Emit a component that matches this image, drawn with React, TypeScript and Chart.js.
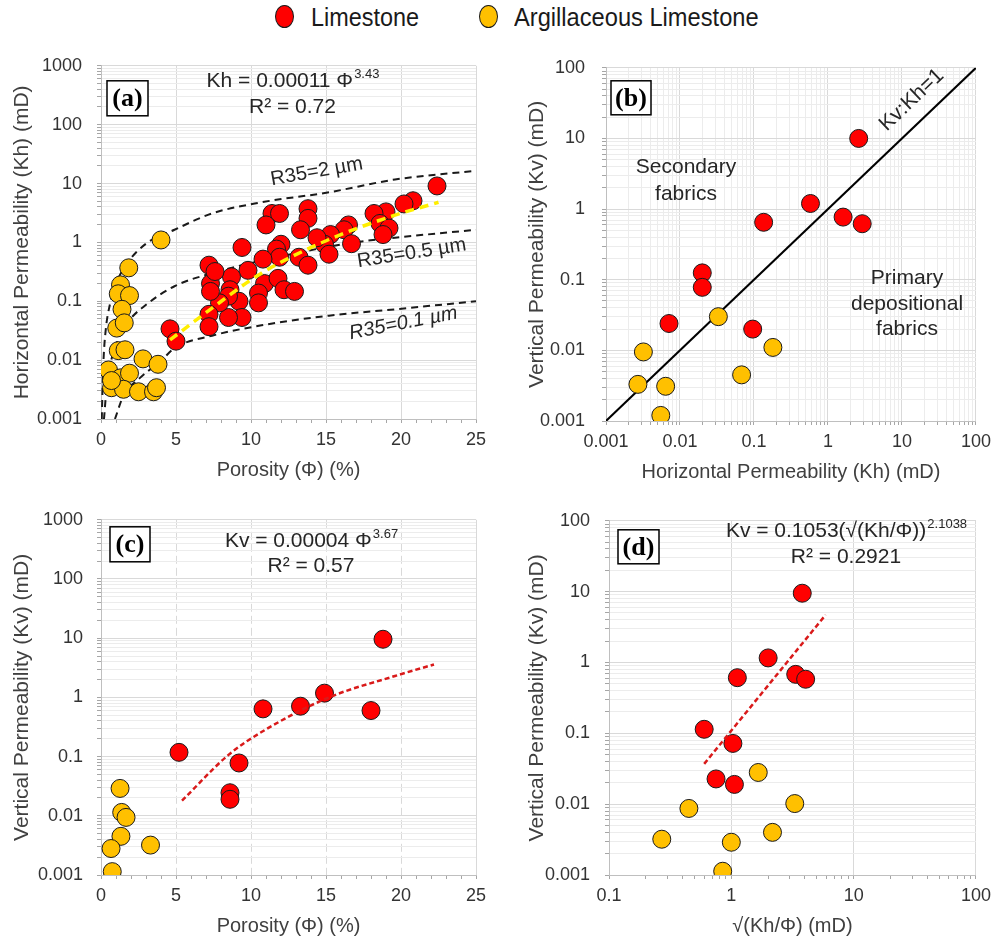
import React, { useEffect, useRef } from 'react';
import { Chart, registerables } from 'chart.js';

Chart.register(...registerables);

const SANS = '"Liberation Sans", Arial, sans-serif';
const SERIF = '"Liberation Serif", "Times New Roman", serif';

const RED = '#ff0000';
const YELLOW = '#ffc000';
const TEXT = '#262626';
const TICK_TEXT = '#333333';

// ---------- tick values ----------
const PHI_TICKS = [0, 5, 10, 15, 20, 25];
const PERM_TICKS_A = [0.001, 0.01, 0.1, 1, 10, 100, 1000];
const PERM_TICKS_B = [0.001, 0.01, 0.1, 1, 10, 100];
const SQRT_TICKS_D = [0.1, 1, 10, 100];

// ---------- panel (a): porosity vs Kh ----------
const LIME_A_PHI = [22.4, 20.8, 20.2, 19.0, 18.2, 18.6, 19.2, 18.8, 16.5, 16.2, 16.7, 15.3, 14.9, 15.2, 14.4, 13.8, 13.8, 13.3, 13.2, 13.8, 12.0, 11.7, 11.9, 11.4, 11.9, 11.0, 9.4, 10.8, 10.9, 11.8, 12.2, 12.9, 10.5, 10.5, 9.8, 8.7, 8.6, 9.2, 9.4, 8.5, 8.5, 7.9, 7.3, 7.2, 7.6, 7.3, 7.2, 7.2, 4.6, 5.0];
const LIME_A_KH = [9.1, 5.1, 4.5, 3.3, 3.1, 2.1, 1.75, 1.36, 1.98, 1.64, 0.95, 1.36, 0.93, 0.63, 1.2, 3.74, 2.56, 1.64, 0.56, 0.41, 0.93, 0.77, 0.56, 3.1, 3.1, 1.98, 0.82, 0.52, 0.2, 0.245, 0.157, 0.147, 0.138, 0.094, 0.335, 0.26, 0.157, 0.1, 0.053, 0.053, 0.122, 0.094, 0.2, 0.41, 0.32, 0.147, 0.06, 0.037, 0.034, 0.021];
const ARG_A_PHI = [4.0, 1.85, 1.3, 1.15, 1.9, 1.4, 1.05, 1.55, 1.15, 1.6, 0.5, 1.3, 1.9, 2.8, 3.8, 0.7, 1.5, 2.5, 3.5, 3.7, 0.7];
const ARG_A_KH = [1.1, 0.37, 0.19, 0.134, 0.125, 0.073, 0.035, 0.043, 0.0145, 0.015, 0.0068, 0.005, 0.006, 0.0105, 0.0085, 0.0034, 0.0032, 0.0029, 0.0029, 0.0034, 0.0045];
const R35_2_PHI = [0.05, 0.15, 0.3, 0.6, 0.93, 1.8, 3.0, 4.9, 7.4, 10.7, 15.2, 19.6, 25];
const R35_2_KH = [0.001, 0.008, 0.03, 0.09, 0.18, 0.46, 0.95, 1.64, 3.1, 4.8, 7.1, 11.7, 16.5];
const R35_05_PHI = [0.2, 0.4, 0.93, 1.8, 2.9, 4.9, 7.4, 10.7, 16.9, 19.6, 25];
const R35_05_KH = [0.001, 0.004, 0.016, 0.044, 0.083, 0.18, 0.3, 0.49, 1.0, 1.2, 1.64];
const R35_01_PHI = [0.93, 1.5, 2.6, 4.0, 4.9, 7.4, 10.7, 15.2, 19.6, 25];
const R35_01_KH = [0.001, 0.0025, 0.005, 0.0097, 0.016, 0.026, 0.039, 0.057, 0.073, 0.1];
const TREND_A_PHI = [4.6, 7.2, 10.7, 15.2, 19.6, 22.5];
const TREND_A_KH = [0.022, 0.07, 0.3, 1.12, 2.9, 4.8];

// ---------- panel (b): Kh vs Kv ----------
const LIME_B_KH = [2.6, 0.58, 0.135, 1.6, 2.9, 0.02, 0.02, 0.0071, 0.096];
const LIME_B_KV = [10, 1.2, 0.65, 0.77, 0.62, 0.125, 0.078, 0.024, 0.02];
const ARG_B_KH = [0.033, 0.0032, 0.18, 0.068, 0.0027, 0.0064, 0.0055];
const ARG_B_KV = [0.03, 0.0095, 0.011, 0.0045, 0.0033, 0.0031, 0.0012];
const ONE_TO_ONE_KH = [0.001, 100];
const ONE_TO_ONE_KV = [0.001, 100];

// ---------- panel (c): porosity vs Kv ----------
const LIME_C_PHI = [18.8, 14.9, 13.3, 10.8, 18.0, 5.2, 9.2, 8.6, 8.6];
const LIME_C_KV = [9.6, 1.18, 0.71, 0.64, 0.6, 0.118, 0.078, 0.0245, 0.019];
const ARG_C_PHI = [1.27, 1.38, 1.67, 1.33, 0.67, 3.3, 0.75];
const ARG_C_KV = [0.029, 0.0114, 0.0094, 0.0045, 0.0028, 0.0032, 0.00114];
const TREND_C_PHI = [5.4, 8.5, 10.7, 15.2, 19.6, 22.2];
const TREND_C_KV = [0.018, 0.107, 0.26, 1.0, 2.3, 3.6];

// ---------- panel (d): sqrt(Kh/phi) vs Kv ----------
const LIME_D_X = [3.8, 2.0, 1.12, 3.36, 4.05, 0.6, 1.03, 0.75, 1.06];
const LIME_D_KV = [9.5, 1.16, 0.61, 0.68, 0.58, 0.114, 0.072, 0.0227, 0.019];
const ARG_D_X = [1.66, 3.3, 0.45, 2.17, 0.27, 1.0, 0.85];
const ARG_D_KV = [0.028, 0.0102, 0.0087, 0.004, 0.0032, 0.0029, 0.00113];
const TREND_D_X = [0.6, 5.9];
const TREND_D_KV = [0.037, 4.7];

// ---------- helpers ----------
const zip = (xs: number[], ys: number[]) => xs.map((x, i) => ({ x, y: ys[i] }));

function logAll(majors: number[]) {
  const out: number[] = [];
  for (let i = 0; i < majors.length; i++) {
    out.push(majors[i]);
    if (i < majors.length - 1) for (let k = 2; k <= 9; k++) out.push(majors[i] * k);
  }
  return out;
}
function linAll(min: number, max: number, step: number) {
  const out: number[] = [];
  for (let v = min; v <= max + 1e-9; v += step) out.push(Math.round(v * 1000) / 1000);
  return out;
}

interface AxisCfg {
  type: 'linear' | 'logarithmic';
  majors: number[];
  all: number[];
  title: string;
  size: number;
  tickPad: number;
  titlePad: number;
  minorGrid: boolean;
  dashed?: boolean;
}

function buildScale(axis: 'x' | 'y', c: AxisCfg) {
  const isLog = c.type === 'logarithmic';
  const idx = (v: number) =>
    c.majors.findIndex((m) => (isLog ? Math.abs(Math.log10(v) - Math.log10(m)) < 1e-6 : Math.abs(v - m) < 1e-6));
  const min = c.majors[0];
  const max = c.majors[c.majors.length - 1];
  return {
    type: c.type,
    min,
    max,
    afterBuildTicks: (scale: any) => {
      scale.ticks = c.all.map((v) => ({ value: v }));
    },
    afterFit: (scale: any) => {
      if (axis === 'x') scale.height = c.size;
      else scale.width = c.size;
    },
    ticks: {
      autoSkip: false,
      maxRotation: 0,
      minRotation: 0,
      padding: c.tickPad,
      color: TICK_TEXT,
      font: { family: SANS, size: 18 },
      callback: (v: any) => {
        const i = idx(Number(v));
        return i >= 0 ? String(c.majors[i]) : '';
      },
    },
    grid: {
      color: (ctx: any) => {
        if (!ctx.tick) return '#d9d9d9';
        return idx(ctx.tick.value) >= 0 ? '#d9d9d9' : c.minorGrid ? '#ececec' : 'rgba(0,0,0,0)';
      },
      lineWidth: 1,
      tickLength: 4,
      tickColor: '#a6a6a6',
      drawTicks: true,
    },
    border: {
      display: true,
      color: '#bfbfbf',
      width: 1,
      dash: (ctx: any) => (c.dashed && ctx.tick && ctx.tick.value > min && ctx.tick.value < max ? [8, 4] : []),
    },
    title: {
      display: true,
      text: c.title,
      color: '#404040',
      font: { family: SANS, size: axis === 'x' ? 20 : 21 },
      padding: axis === 'x' ? { top: 0, bottom: c.titlePad } : { top: c.titlePad, bottom: 0 },
    },
  };
}

function pointsDs(data: any[], color: string, order: number) {
  return {
    data,
    backgroundColor: color,
    borderColor: '#1a1a1a',
    borderWidth: 1,
    pointRadius: 9,
    pointHoverRadius: 9,
    showLine: false,
    order,
  };
}
function lineDs(data: any[], color: string, width: number, dash: number[], order: number, curve = true) {
  return {
    data,
    borderColor: color,
    backgroundColor: color,
    borderWidth: width,
    borderDash: dash,
    pointRadius: 0,
    pointHoverRadius: 0,
    showLine: true,
    fill: false,
    tension: 0,
    cubicInterpolationMode: curve ? 'monotone' : 'default',
    order,
  };
}

function drawSupLine(ctx: CanvasRenderingContext2D, cx: number, cy: number, main: string, sup: string, size: number) {
  ctx.save();
  ctx.fillStyle = TEXT;
  ctx.textBaseline = 'alphabetic';
  ctx.textAlign = 'left';
  ctx.font = `${size}px ${SANS}`;
  const w1 = ctx.measureText(main).width;
  const supSize = Math.round(size * 0.62);
  ctx.font = `${supSize}px ${SANS}`;
  const w2 = sup ? ctx.measureText(sup).width : 0;
  const x0 = cx - (w1 + w2) / 2;
  const base = cy + size * 0.36;
  ctx.font = `${size}px ${SANS}`;
  ctx.fillText(main, x0, base);
  if (sup) {
    ctx.font = `${supSize}px ${SANS}`;
    ctx.fillText(sup, x0 + w1 + 1, base - size * 0.4);
  }
  ctx.restore();
}

function drawText(ctx: CanvasRenderingContext2D, x: number, y: number, text: string, size: number, rot = 0, italic = false) {
  ctx.save();
  ctx.translate(x, y);
  ctx.rotate(rot);
  ctx.fillStyle = TEXT;
  ctx.textAlign = 'center';
  ctx.textBaseline = 'middle';
  ctx.font = `${italic ? 'italic ' : ''}${size}px ${SANS}`;
  ctx.fillText(text, 0, 0);
  ctx.restore();
}

function drawLabelBox(ctx: CanvasRenderingContext2D, x: number, y: number, w: number, h: number, text: string) {
  ctx.save();
  ctx.fillStyle = '#ffffff';
  ctx.fillRect(x, y, w, h);
  ctx.strokeStyle = '#000000';
  ctx.lineWidth = 1.5;
  ctx.strokeRect(x, y, w, h);
  ctx.fillStyle = '#000000';
  ctx.font = `bold 26px ${SERIF}`;
  ctx.textAlign = 'center';
  ctx.textBaseline = 'middle';
  ctx.fillText(text, x + w / 2, y + h / 2 + 1);
  ctx.restore();
}

function makeConfig(
  datasets: any[],
  x: AxisCfg,
  y: AxisCfg,
  padding: { left: number; top: number; right: number; bottom: number },
  draw: (ctx: CanvasRenderingContext2D, chart: any) => void
) {
  return {
    type: 'scatter',
    data: { datasets },
    options: {
      animation: false,
      responsive: false,
      devicePixelRatio: 1,
      events: [],
      layout: { padding },
      plugins: { legend: { display: false }, tooltip: { enabled: false } },
      scales: { x: buildScale('x', x), y: buildScale('y', y) },
    },
    plugins: [
      {
        id: 'annotations',
        afterDatasetsDraw(chart: any) {
          draw(chart.ctx, chart);
        },
      },
    ],
  } as any;
}

// ---------- panel configs ----------
function configA() {
  const datasets = [
    lineDs(zip(TREND_A_PHI, TREND_A_KH), '#ffee00', 3.5, [9, 6], 0),
    pointsDs(zip(LIME_A_PHI, LIME_A_KH), RED, 1),
    pointsDs(zip(ARG_A_PHI, ARG_A_KH), YELLOW, 2),
    lineDs(zip(R35_2_PHI, R35_2_KH), '#1a1a1a', 2, [7, 5], 3),
    lineDs(zip(R35_05_PHI, R35_05_KH), '#1a1a1a', 2, [7, 5], 3),
    lineDs(zip(R35_01_PHI, R35_01_KH), '#1a1a1a', 2, [7, 5], 3),
  ];
  return makeConfig(
    datasets,
    { type: 'linear', majors: PHI_TICKS, all: linAll(0, 25, 1), title: 'Porosity (Φ) (%)', size: 70, tickPad: 6, titlePad: 6.4, minorGrid: false },
    { type: 'logarithmic', majors: PERM_TICKS_A, all: logAll(PERM_TICKS_A), title: 'Horizontal Permeability (Kh) (mD)', size: 101, tickPad: 15, titlePad: 9.4, minorGrid: true },
    { left: 0, top: 16, right: 21, bottom: 11 },
    (ctx, chart) => {
      const a = chart.chartArea;
      drawSupLine(ctx, 292.5, 39, 'Kh = 0.00011 Φ', '3.43', 21);
      drawSupLine(ctx, 292.5, 65, 'R² = 0.72', '', 21);
      drawText(ctx, 316.7, 131.7, 'R35=2 µm', 20, (-10 * Math.PI) / 180);
      drawText(ctx, 411.7, 213.3, 'R35=0.5 µm', 20, (-9 * Math.PI) / 180);
      drawText(ctx, 403.3, 283.3, 'R35=0.1 µm', 20, (-11 * Math.PI) / 180, true);
      drawLabelBox(ctx, a.left + 6, a.top + 15, 41, 35, '(a)');
    }
  );
}

function configB() {
  const datasets = [
    pointsDs(zip(LIME_B_KH, LIME_B_KV), RED, 1),
    pointsDs(zip(ARG_B_KH, ARG_B_KV), YELLOW, 2),
    lineDs(zip(ONE_TO_ONE_KH, ONE_TO_ONE_KV), '#000000', 2, [], 3, false),
  ];
  return makeConfig(
    datasets,
    { type: 'logarithmic', majors: PERM_TICKS_B, all: logAll(PERM_TICKS_B), title: 'Horizontal Permeability (Kh) (mD)', size: 70, tickPad: 6, titlePad: 6.4, minorGrid: true },
    { type: 'logarithmic', majors: PERM_TICKS_B, all: logAll(PERM_TICKS_B), title: 'Vertical Permeability (Kv) (mD)', size: 109, tickPad: 17, titlePad: 27.4, minorGrid: true },
    { left: 0, top: 21, right: 18, bottom: 9 },
    (ctx, chart) => {
      const a = chart.chartArea;
      const sx = chart.scales.x;
      const sy = chart.scales.y;
      const ang = Math.atan2(sy.getPixelForValue(100) - sy.getPixelForValue(0.001), sx.getPixelForValue(100) - sx.getPixelForValue(0.001));
      drawText(ctx, 414.7, 60, 'Kv:Kh=1', 21, ang);
      drawText(ctx, 189, 127, 'Secondary', 21);
      drawText(ctx, 189, 154, 'fabrics', 21);
      drawText(ctx, 410, 238, 'Primary', 21);
      drawText(ctx, 410, 264, 'depositional', 21);
      drawText(ctx, 410, 289, 'fabrics', 21);
      drawLabelBox(ctx, a.left + 5, a.top + 13, 40, 34, '(b)');
    }
  );
}

function configC() {
  const datasets = [
    lineDs(zip(TREND_C_PHI, TREND_C_KV), '#d91a1a', 2.5, [5, 3], 0),
    pointsDs(zip(LIME_C_PHI, LIME_C_KV), RED, 1),
    pointsDs(zip(ARG_C_PHI, ARG_C_KV), YELLOW, 2),
  ];
  return makeConfig(
    datasets,
    { type: 'linear', majors: PHI_TICKS, all: linAll(0, 25, 1), title: 'Porosity (Φ) (%)', size: 66, tickPad: 6, titlePad: 2.4, minorGrid: false, dashed: true },
    { type: 'logarithmic', majors: PERM_TICKS_A, all: logAll(PERM_TICKS_A), title: 'Vertical Permeability (Kv) (mD)', size: 101, tickPad: 14, titlePad: 9.4, minorGrid: true },
    { left: 0, top: 20, right: 21, bottom: 2 },
    (ctx, chart) => {
      const a = chart.chartArea;
      drawSupLine(ctx, 311, 44.3, 'Kv = 0.00004 Φ', '3.67', 21);
      drawSupLine(ctx, 311, 69, 'R² = 0.57', '', 21);
      drawLabelBox(ctx, a.left + 9, a.top + 7, 40, 35, '(c)');
    }
  );
}

function configD() {
  const datasets = [
    lineDs(zip(TREND_D_X, TREND_D_KV), '#d91a1a', 2.5, [5, 3], 0, false),
    pointsDs(zip(LIME_D_X, LIME_D_KV), RED, 1),
    pointsDs(zip(ARG_D_X, ARG_D_KV), YELLOW, 2),
  ];
  return makeConfig(
    datasets,
    { type: 'logarithmic', majors: SQRT_TICKS_D, all: logAll(SQRT_TICKS_D), title: '√(Kh/Φ) (mD)', size: 66, tickPad: 6, titlePad: 2.4, minorGrid: false },
    { type: 'logarithmic', majors: PERM_TICKS_B, all: logAll(PERM_TICKS_B), title: 'Vertical Permeability (Kv) (mD)', size: 112, tickPad: 15, titlePad: 27.4, minorGrid: true },
    { left: 0, top: 19, right: 19, bottom: 2 },
    (ctx, chart) => {
      const a = chart.chartArea;
      drawSupLine(ctx, 349, 34.3, 'Kv = 0.1053(√(Kh/Φ))', '2.1038', 21);
      drawSupLine(ctx, 349, 60, 'R² = 0.2921', '', 21);
      drawLabelBox(ctx, a.left + 9, a.top + 9, 41, 34, '(d)');
    }
  );
}

function Panel(props: { left: number; top: number; width: number; height: number; build: () => any }) {
  const ref = useRef<HTMLCanvasElement>(null);
  useEffect(() => {
    const chart = new Chart(ref.current as HTMLCanvasElement, props.build());
    return () => chart.destroy();
  }, []);
  return (
    <canvas
      ref={ref}
      width={props.width}
      height={props.height}
      style={{ position: 'absolute', left: props.left, top: props.top, width: props.width, height: props.height }}
    />
  );
}

function LegendItem(props: { cx: number; color: string; textLeft: number; label: string; scale: number }) {
  return (
    <>
      <div
        style={{
          position: 'absolute',
          left: props.cx - 10,
          top: 5,
          width: 19,
          height: 23,
          borderRadius: '50%',
          background: props.color,
          border: '1px solid #1a1a1a',
          boxSizing: 'border-box',
        }}
      />
      <div
        style={{
          position: 'absolute',
          left: props.textLeft,
          top: 0,
          height: 34,
          lineHeight: '34px',
          fontFamily: SANS,
          fontSize: 26,
          color: '#1a1a1a',
          whiteSpace: 'nowrap',
          transform: `scaleX(${props.scale})`,
          transformOrigin: 'left center',
        }}
      >
        {props.label}
      </div>
    </>
  );
}

export default function App() {
  return (
    <div style={{ position: 'absolute', left: 0, top: 0, width: 997, height: 943, background: '#ffffff', overflow: 'hidden' }}>
      <LegendItem cx={285} color={RED} textLeft={311} label="Limestone" scale={0.9} />
      <LegendItem cx={489} color={YELLOW} textLeft={514} label="Argillaceous Limestone" scale={0.91} />
      <Panel left={0} top={40} width={497} height={460} build={configA} />
      <Panel left={497} top={40} width={500} height={460} build={configB} />
      <Panel left={0} top={495} width={497} height={448} build={configC} />
      <Panel left={497} top={495} width={500} height={448} build={configD} />
    </div>
  );
}
